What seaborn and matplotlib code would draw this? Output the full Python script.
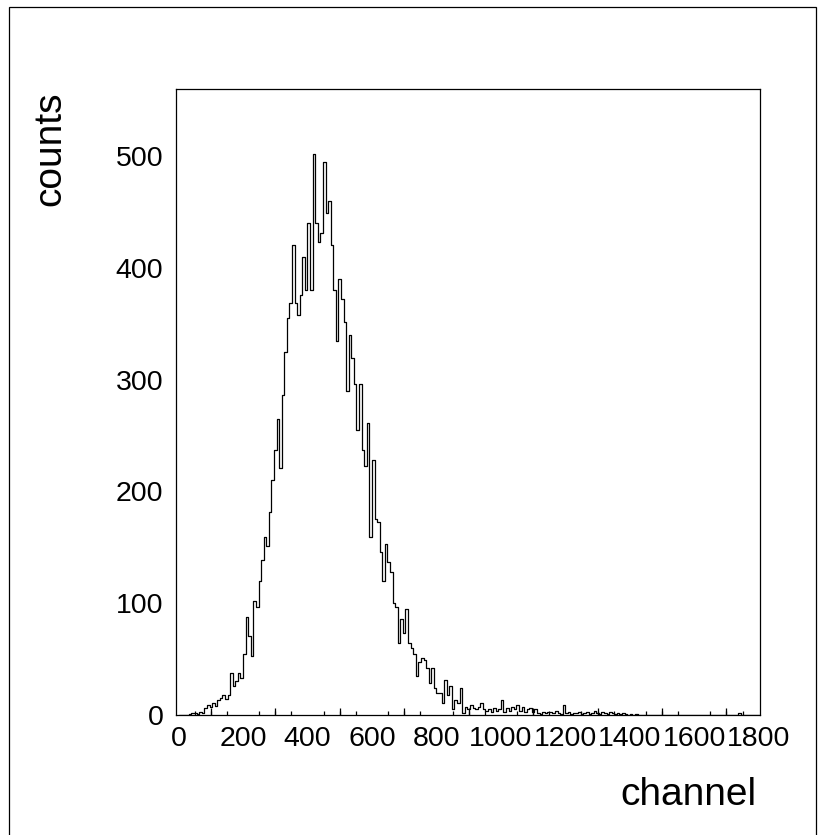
import numpy as np
import pandas as pd
import seaborn as sns
import matplotlib.pyplot as plt
from matplotlib.patches import Rectangle
from matplotlib.ticker import MultipleLocator

# Histogram: 8-channel bins, 0..1800
bin_width = 8
counts_low = [0, 0, 0, 0, 1, 2, 2, 1, 3, 2, 6, 9, 7, 11, 8, 13, 15, 18, 14, 18,
              38, 26, 30, 38, 33, 55, 88, 71, 53, 102, 97, 120, 139, 159, 151, 182,
              210, 237]
counts_peak = [265, 221, 286, 325, 355, 369, 420, 369, 358, 376, 410, 380, 440, 380,
               502, 440, 423, 431, 495, 449, 460, 420, 380, 335, 390, 372]
counts_fall = [352, 290, 340, 319, 296, 255, 296, 237, 223, 261, 159, 228, 175, 173,
               146, 120, 153, 137, 128, 100, 97, 64, 86, 73, 95, 64, 60, 55, 35, 47,
               51, 49, 42, 29, 42, 24, 20, 20, 11, 31, 18, 26, 5, 13, 11, 24, 2]
counts_tail = [7, 5, 9, 6, 5, 7, 11, 5, 4, 5, 3, 6, 4, 5, 13, 3, 6, 4, 7, 5, 9, 4, 7,
               3, 5, 6, 3, 5, 2, 1, 3, 2, 3, 3, 2, 4, 2, 1, 9, 2, 3, 1, 2, 2, 3, 1, 2,
               3, 1, 2, 4, 2, 1, 3, 2, 1, 3, 2, 1, 2, 1, 2, 1, 0, 1, 0, 1]
counts_end = [0] * 39 + [2] + [0] * 45

counts = counts_low + counts_peak + counts_fall + counts_tail + counts_end
n_bins = len(counts)
channel = np.arange(n_bins) * bin_width + bin_width / 2
df = pd.DataFrame({'channel': channel, 'counts': counts})

sns.set_style('white')
plt.rcParams['font.family'] = ['Liberation Sans', 'DejaVu Sans']
plt.rcParams['text.color'] = 'black'
plt.rcParams['xtick.color'] = 'black'
plt.rcParams['ytick.color'] = 'black'

fig = plt.figure(figsize=(8.27, 8.35), dpi=100)
ax = fig.add_axes([176 / 827, 1 - 715 / 835, 584 / 827, 626 / 835])

sns.histplot(data=df, x='channel', weights='counts', binwidth=bin_width,
             binrange=(0, n_bins * bin_width), element='step',
             fill=False, color='black', linewidth=0.9, ax=ax)

ax.set_xlim(-8, 1804)
ax.set_ylim(0, 560)
ax.xaxis.set_major_locator(MultipleLocator(200))
ax.xaxis.set_minor_locator(MultipleLocator(50))
ax.yaxis.set_major_locator(MultipleLocator(100))
ax.tick_params(axis='both', which='both', direction='in', top=False, right=False,
               color='black', width=0.9, labelcolor='black')
ax.tick_params(axis='x', which='major', length=8, labelsize=20.5, pad=8)
ax.tick_params(axis='x', which='minor', length=3, bottom=True)
ax.tick_params(axis='y', which='major', length=8.5, labelsize=20.5, pad=9)
for s in ax.spines.values():
    s.set_color('black')
    s.set_linewidth(0.9)

# medium ticks every 100 channels
sec = ax.secondary_xaxis('bottom')
sec.set_xticks(np.arange(100, 1800, 200))
sec.tick_params(direction='in', length=5, width=0.9, color='black', labelbottom=False)
sec.spines['bottom'].set_visible(False)

ax.set_xlabel('')
ax.set_ylabel('')
fig.text(757 / 827, 1 - 805 / 835, 'channel', fontsize=28, ha='right', va='baseline')
fig.text(68 / 827, 1 - 91 / 835, 'counts', fontsize=28, rotation=90, ha='right', va='top')

# canvas border
fig.patches.append(Rectangle((9 / 827, -0.05), 807 / 827, 1.05 - 7 / 835,
                             transform=fig.transFigure, fill=False,
                             edgecolor='black', linewidth=0.9))

fig.savefig('out.png', dpi=100, facecolor='white')
